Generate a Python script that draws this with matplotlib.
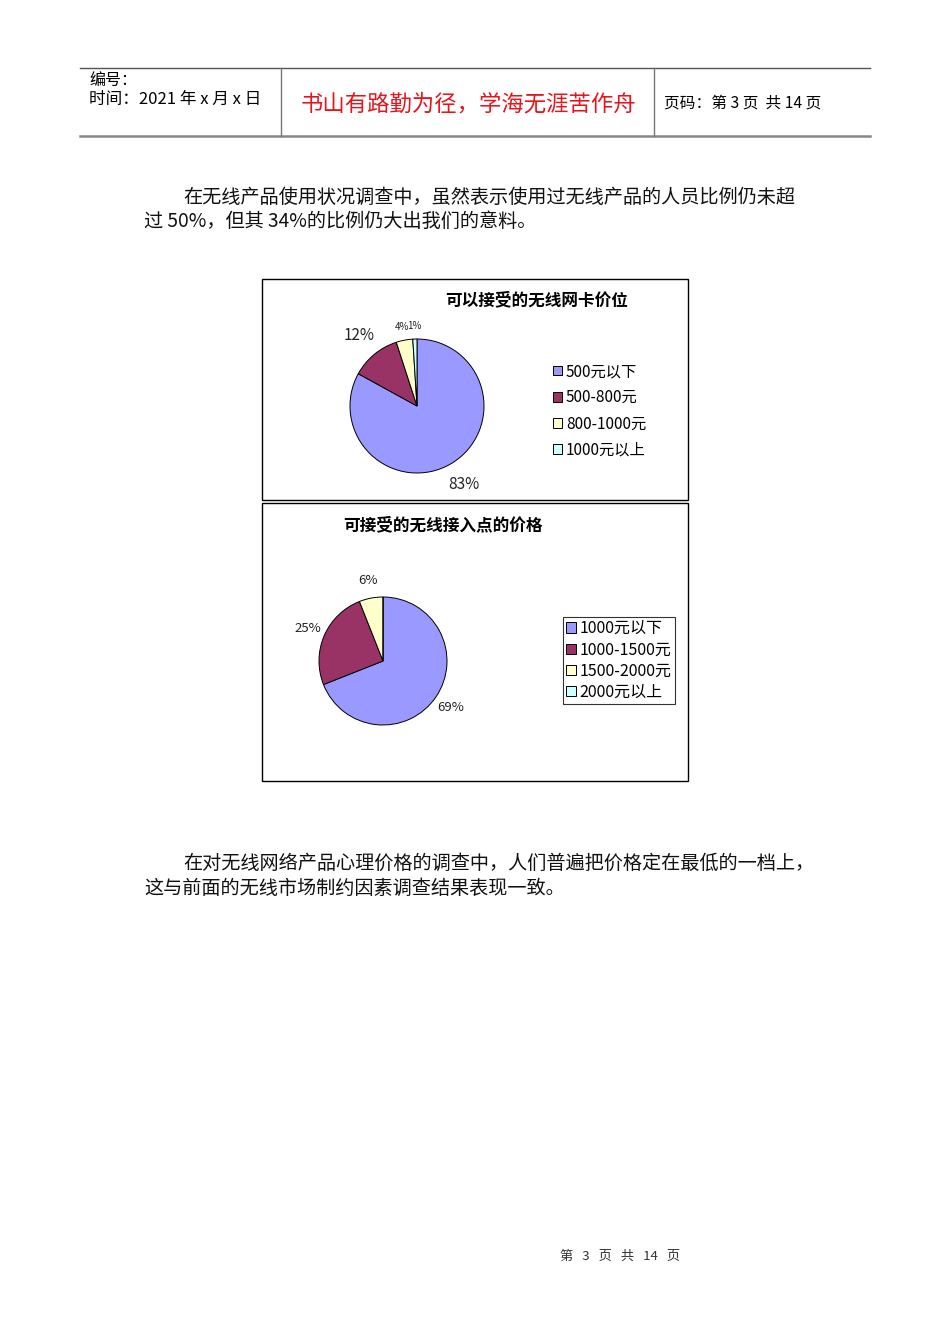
import matplotlib
matplotlib.use("Agg")
import matplotlib.pyplot as plt
from matplotlib.patches import Rectangle

plt.rcParams["font.family"] = ["Noto Sans CJK SC", "DejaVu Sans"]

# 数据
categorias_cartao = ["500元以下", "500-800元", "800-1000元", "1000元以上"]
valores_cartao = [83, 12, 4, 1]
titulo_cartao = "可以接受的无线网卡价位"

categorias_ap = ["1000元以下", "1000-1500元", "1500-2000元", "2000元以上"]
valores_ap = [69, 25, 6, 0]
titulo_ap = "可接受的无线接入点的价格"

cores = ["#9999FF", "#993366", "#FFFFCC", "#CCFFFF"]

W, H = 950, 1344
fig = plt.figure(figsize=(W / 100, H / 100), dpi=100)
pagina = fig.add_axes([0, 0, 1, 1])
pagina.set_xlim(0, W)
pagina.set_ylim(H, 0)
pagina.axis("off")

# cabeçalho
pagina.plot([80, 870], [68, 68], color="#555555", lw=1)
pagina.plot([80, 870], [136, 136], color="#888888", lw=1.8)
for x in (281, 654):
    pagina.plot([x, x], [68, 136], color="#777777", lw=1)
pagina.text(89, 80, "编号：", fontsize=11.5, va="center")
pagina.text(89, 99, "时间：2021 年 x 月 x 日", fontsize=12, va="center")
pagina.text(468, 104, "书山有路勤为径，学海无涯苦作舟", fontsize=16.1,
            color="#E8141B", ha="center", va="center")
pagina.text(664, 103, "页码：第 3 页  共 14 页", fontsize=11.3, va="center")

# texto
estilo = dict(fontsize=13.8, va="center", color="#111111")
pagina.text(183, 197, "在无线产品使用状况调查中，虽然表示使用过无线产品的人员比例仍未超", **estilo)
pagina.text(144, 221, "过 50%，但其 34%的比例仍大出我们的意料。", **estilo)
pagina.text(183, 863, "在对无线网络产品心理价格的调查中，人们普遍把价格定在最低的一档上，", **estilo)
pagina.text(144, 888, "这与前面的无线市场制约因素调查结果表现一致。", **estilo)

pagina.text(620, 1256, "第   3   页   共   14   页", fontsize=9.5, ha="center",
            va="center", color="#333333")

# molduras dos gráficos
pagina.add_patch(Rectangle((262, 279), 426, 221, fill=False, ec="black", lw=1))
pagina.add_patch(Rectangle((262, 503), 426, 278, fill=False, ec="black", lw=1))


def eixo_pizza(cx, cy, r):
    return fig.add_axes([(cx - r) / W, 1 - (cy + r) / H, 2 * r / W, 2 * r / H])


def desenhar_pizza(ax, valores, distancia, tamanhos):
    rotulos = [f"{v}%" if v > 0 else "" for v in valores]
    fatias, textos = ax.pie(
        valores, colors=cores, startangle=90, counterclock=False,
        labels=rotulos, labeldistance=distancia,
        wedgeprops=dict(edgecolor="black", linewidth=0.7),
    )
    ax.set_xlim(-1, 1)
    ax.set_ylim(-1, 1)
    ax.axis("off")
    for t, tam in zip(textos, tamanhos):
        t.set_fontsize(tam)
        t.set_color("#222222")
        t.set_ha("center")
        t.set_va("center")
        if tam < 8:
            # rótulos pequenos ficam mais perto da fatia
            x, y = t.get_position()
            t.set_position((x * 0.88, y * 0.88))
    return fatias


# gráfico 1
ax1 = eixo_pizza(417, 406, 67)
fatias1 = desenhar_pizza(ax1, valores_cartao, 1.36, [11, 11, 7, 7])
pagina.text(537, 300, titulo_cartao, fontsize=12, fontweight="bold",
            ha="center", va="center")
fig.legend(fatias1, categorias_cartao, loc="upper left",
           bbox_to_anchor=(553 / W, 1 - 363 / H), frameon=False,
           fontsize=11, handlelength=0.6, handleheight=0.6,
           handletextpad=0.25, labelspacing=0.6, borderpad=0,
           borderaxespad=0)

# gráfico 2
ax2 = eixo_pizza(383, 661, 64)
fatias2 = desenhar_pizza(ax2, valores_ap, 1.28, [9.5, 9.5, 9.5, 9.5])
pagina.text(443, 525, titulo_ap, fontsize=12, fontweight="bold",
            ha="center", va="center")
leg2 = fig.legend(fatias2, categorias_ap, loc="upper left",
                  bbox_to_anchor=(563 / W, 1 - 617 / H), frameon=True,
                  fontsize=11.5, handlelength=0.6, handleheight=0.6,
                  handletextpad=0.25, labelspacing=0.26, borderpad=0.2,
                  fancybox=False, borderaxespad=0)
leg2.get_frame().set_edgecolor("black")
leg2.get_frame().set_linewidth(0.8)

fig.savefig("out.png", dpi=100)
